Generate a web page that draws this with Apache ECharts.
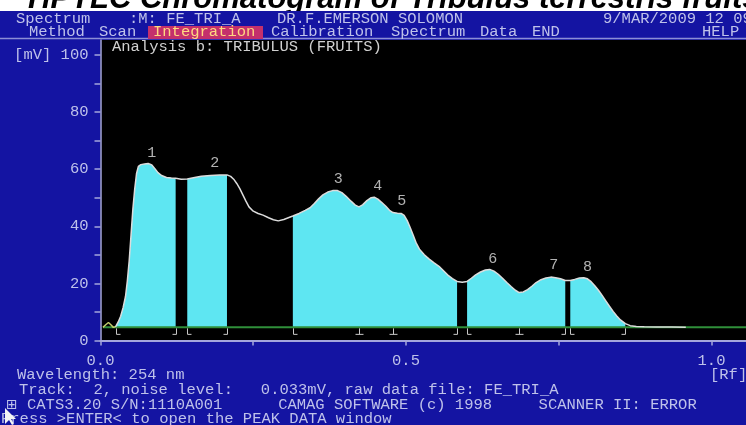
<!DOCTYPE html>
<html><head><meta charset="utf-8">
<script src="https://cdn.jsdelivr.net/npm/echarts@6/dist/echarts.min.js"></script>
<style>html,body{margin:0;padding:0;background:#fff;}#c{width:746px;height:425px;}</style>
</head><body><div id="c"></div>
<script>
// ---- data ----
const curveRf = [0.004,0.009,0.013,0.017,0.021,0.0246,0.029,0.033,0.037,0.041,0.044,0.047,0.050,0.053,0.056,0.059,0.062,0.066,0.072,0.078,0.084,0.089,0.094,0.100,0.108,0.116,0.123,0.132,0.142,0.152,0.165,0.180,0.195,0.207,0.213,0.218,0.223,0.228,0.233,0.238,0.243,0.250,0.258,0.266,0.275,0.283,0.291,0.300,0.3148,0.325,0.335,0.343,0.350,0.357,0.364,0.372,0.380,0.388,0.395,0.402,0.410,0.417,0.423,0.429,0.436,0.443,0.448,0.454,0.460,0.467,0.473,0.4787,0.486,0.492,0.497,0.502,0.507,0.512,0.517,0.522,0.530,0.538,0.546,0.554,0.561,0.568,0.576,0.5836,0.592,0.600,0.607,0.614,0.622,0.630,0.637,0.644,0.651,0.658,0.665,0.672,0.679,0.6852,0.692,0.699,0.706,0.713,0.721,0.729,0.737,0.745,0.753,0.7607,0.7689,0.776,0.784,0.791,0.797,0.803,0.809,0.815,0.821,0.827,0.833,0.839,0.845,0.851,0.859,0.867,0.877,0.890,0.910,0.935,0.958];
const curveMv = [4.6,5.6,6.3,5.5,4.6,4.8,6.5,8.5,11.5,15.5,21,28,37,46,53,58.5,61,61.6,61.8,62,61.5,60.2,58.8,57.8,57.1,56.9,56.8,56.5,56.6,57.0,57.5,57.8,58.0,58.0,57.5,56.5,55.0,53.2,51.0,48.8,46.8,45.3,44.5,43.9,43.0,42.3,41.9,42.4,43.6,44.5,45.6,46.5,48.0,49.6,51.0,52.0,52.5,52.5,51.8,50.5,48.8,47.4,46.8,47.5,49.0,50.0,50.2,49.5,48.4,47.0,45.6,44.8,44.6,44.5,43.8,42.0,39.5,36.8,34.0,32.0,30.0,28.5,27.2,26.0,24.5,23.0,21.7,20.7,20.4,20.7,21.8,23.0,24.0,24.7,24.9,24.3,23.2,21.8,20.3,18.9,17.6,16.8,17.0,17.8,19.0,20.3,21.3,21.9,22.2,22.0,21.6,21.0,21.0,21.4,21.9,22.0,21.6,20.6,19.2,17.6,15.8,13.9,12.0,10.2,8.6,7.2,5.9,5.2,4.9,4.8,4.7,4.7,4.6];
const baselineMv = 4.6;
const baselineRf = [0.004, 1.06];
const startBumpEndRf = 0.0246;
const peakStart = [0.0246, 0.142, 0.3148, 0.600, 0.7689];
const peakEnd   = [0.123, 0.207, 0.5836, 0.7607, 0.859];
const peakNames = ['1','2','3','4','5','6','7','8'];
const peakRf = [0.0838, 0.187, 0.389, 0.4537, 0.493, 0.642, 0.742, 0.797];
const peakMv = [61.5, 57.9, 52.4, 49.9, 44.5, 24.5, 22.1, 21.6];
const markerRf = [0.0246,0.123,0.142,0.207,0.3148,0.423,0.4787,0.5836,0.600,0.6852,0.7607,0.7689,0.859];
const markerKind = [0,1,0,1,0,2,2,1,0,2,1,0,1]; // 0 start, 1 end, 2 valley
const xTicks = [0, 0.25, 0.5, 0.75, 1.0];
const xLabels = [0, 0.5, 1.0];
const yTicks = [0,10,20,30,40,50,60,70,80,90,100];
const yLabels = [0,20,40,60,80,100];

// ---- styles ----
const BLUE = '#1414a2', TXT = '#bec1ea', AX = '#a4a6dc', CYAN = '#5ee6f2';
const MONO = '"Liberation Mono", "DejaVu Sans Mono", monospace';
const FS = 15.5;

const curve = curveRf.map((r,i)=>[r, curveMv[i]]);
const bump = curve.filter(p=>p[0]<=startBumpEndRf+1e-9);
const mainCurve = curve.filter(p=>p[0]>=startBumpEndRf-1e-9);
const fills = peakStart.map((a,k)=>({
  type:'line', data: curve.filter(p=>p[0]>=a-1e-9 && p[0]<=peakEnd[k]+1e-9),
  showSymbol:false, symbol:'none', silent:true, z:2,
  lineStyle:{width:0, opacity:0},
  areaStyle:{color:CYAN, opacity:1, origin: baselineMv}
}));

function t(x,y,s,fill,z,font){
  return {type:'text', x:x, y:y, z:z||20, silent:true,
    style:{text:s, fill:fill||TXT, font: font || (FS+'px '+MONO), align:'left', verticalAlign:'middle', textAlign:'left', textVerticalAlign:'middle'}};
}

const chart = echarts.init(document.getElementById('c'), null, {renderer:'canvas'});
chart.setOption({
  backgroundColor: BLUE,
  animation:false,
  grid:{left:100.5, right:0, top:40, bottom:84.5, show:true, backgroundColor:'#000', borderWidth:0},
  xAxis:{type:'value', min:0, max:1.0565,
    axisLine:{show:true, onZero:false, lineStyle:{color:AX, width:2}},
    axisTick:{show:true, length:5, customValues:xTicks, lineStyle:{color:AX, width:1.5}},
    axisLabel:{customValues:xLabels, formatter:v=>Number(v).toFixed(1), color:TXT, fontFamily:MONO, fontSize:FS, margin:12},
    splitLine:{show:false}},
  yAxis:{type:'value', min:0, max:105.25,
    axisLine:{show:true, lineStyle:{color:AX, width:1.5}},
    axisTick:{show:true, length:6, customValues:yTicks, lineStyle:{color:AX, width:1.5}},
    axisLabel:{customValues:yLabels, formatter:v=> (v===100 ? '[mV] 100' : String(v)), color:TXT, fontFamily:MONO, fontSize:FS, margin:12},
    splitLine:{show:false}},
  series: fills.concat([
    {type:'line', data: baselineRf.map(r=>[r, baselineMv]), showSymbol:false, symbol:'none', z:4, silent:true,
      lineStyle:{color:'#2f8f3a', width:2}},
    {type:'line', data: bump, showSymbol:false, symbol:'none', z:5, silent:true,
      lineStyle:{color:'#c2cc6a', width:1.5}},
    {type:'line', data: mainCurve, showSymbol:false, symbol:'none', z:5, silent:true,
      lineStyle:{color:'#dcdcdc', width:1.5}},
    {type:'custom', z:6, silent:true, data: markerRf.map((r,i)=>[r, markerKind[i]]),
      renderItem:function(params, api){
        const p = api.coord([api.value(0), baselineMv]);
        const k = api.value(1);
        const x = Math.round(p[0])+0.5, y = p[1]+1, h = 6, f = 4;
        const x1 = (k===0) ? x : x-f, x2 = (k===1) ? x : x+f;
        const st = {stroke:'#c8c8c8', lineWidth:1};
        return {type:'group', children:[
          {type:'line', shape:{x1:x, y1:y, x2:x, y2:y+h}, style:st},
          {type:'line', shape:{x1:x1, y1:y+h, x2:x2, y2:y+h}, style:st}
        ]};
      }},
    {type:'scatter', z:7, silent:true, symbolSize:1, itemStyle:{color:'rgba(0,0,0,0)'},
      data: peakRf.map((r,i)=>({name:peakNames[i], value:[r, peakMv[i]]})),
      label:{show:true, position:'top', distance:4, formatter:'{b}', color:'#dedede', fontFamily:MONO, fontSize:15}}
  ]),
  graphic:[
    {type:'rect', z:10, silent:true, shape:{x:0,y:0,width:746,height:11}, style:{fill:'#fff'}},
    t(28, -1, 'HPTLC Chromatogram of Tribulus terrestris fruits', '#000', 11, 'italic bold 31px "Liberation Sans", Arial, sans-serif'),
    {type:'rect', z:12, silent:true, shape:{x:0,y:11,width:746,height:28}, style:{fill:BLUE}},
    {type:'line', z:13, silent:true, shape:{x1:0,y1:38.5,x2:746,y2:38.5}, style:{stroke:'#8c8ed6', lineWidth:1.5}},
    t(16, 19, 'Spectrum'),
    t(129, 19, ':M: FE_TRI_A'),
    t(277, 19, 'DR.F.EMERSON SOLOMON'),
    t(603, 19, '9/MAR/2009 12 09'),
    {type:'rect', z:14, silent:true, shape:{x:148,y:26,width:115,height:13}, style:{fill:'#c4306c'}},
    t(29, 32, 'Method'),
    t(99, 32, 'Scan'),
    t(153, 32, 'Integration', '#ffd880'),
    t(271, 32, 'Calibration'),
    t(391, 32, 'Spectrum'),
    t(480, 32, 'Data'),
    t(532, 32, 'END'),
    t(702, 32, 'HELP'),
    t(112, 47, 'Analysis b: TRIBULUS (FRUITS)', '#d0d0d0'),
    t(17, 375, 'Wavelength: 254 nm'),
    t(710, 375, '[Rf]'),
    t(19, 390, 'Track:  2, noise level:   0.033mV, raw data file: FE_TRI_A'),
    t(6, 405, '\u229E', TXT, 20, '14px "DejaVu Sans", sans-serif'),
    t(27, 405, 'CATS3.20 S/N:1110A001      CAMAG SOFTWARE (c) 1998     SCANNER II: ERROR'),
    t(1, 419, 'Press >ENTER< to open the PEAK DATA window'),
    {type:'polygon', z:21, silent:true, shape:{points:[[5,408],[5,424],[9,420],[12,425],[14,424],[11,419],[16,419]]}, style:{fill:'#f4f4f4'}}
  ]
});
</script></body></html>
